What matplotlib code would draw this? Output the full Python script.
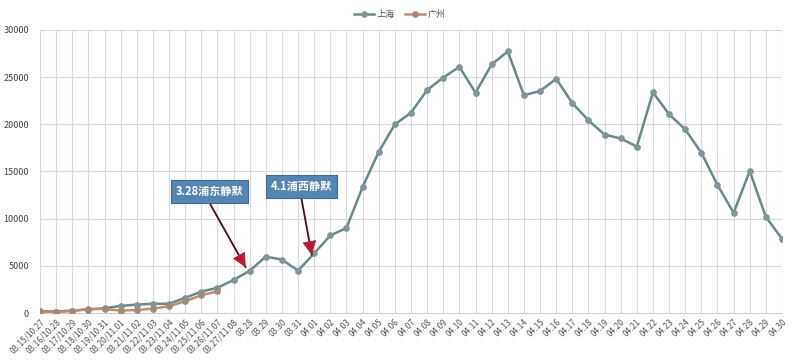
import numpy as np
import matplotlib
matplotlib.use("Agg")
import matplotlib.pyplot as plt

plt.rcParams['font.family'] = ['Noto Sans CJK SC', 'DejaVu Sans']

# ==========================
# Data
# ==========================
labels = ["03.15/10.27", "03.16/10.28", "03.17/10.29", "03.18/10.30", "03.19/10.31",
          "03.20/11.01", "03.21/11.02", "03.22/11.03", "03.23/11.04", "03.24/11.05",
          "03.25/11.06", "03.26/11.07", "03.27/11.08",
          "03.28", "03.29", "03.30", "03.31"] + ["04.%02d" % d for d in range(1, 31)]

shanghai = [202, 158, 260, 374, 509, 758, 896, 981, 983, 1609, 2269, 2676, 3500,
            4477, 5982, 5653, 4502,
            6311, 8226, 9006, 13354, 17077, 19982, 21222, 23624, 24943, 26087,
            23342, 26330, 27719, 23072, 23513, 24820, 22248, 20416, 18901, 18495,
            17629, 23370, 21058, 19455, 16980, 13562, 10622, 15032, 10181, 7872]

guangzhou = [150, 110, 220, 440, 430, 260, 320, 470, 730, 1250, 1880, 2300]

notes = ["3.28浦东静默", "4.1浦西静默"]
note_box = [(10.5, 12900), (16.2, 13400)]
note_tip = [(12.75, 4850), (16.85, 6150)]

# ==========================
# Plot
# ==========================
fig = plt.figure(figsize=(8, 3.64), dpi=100)
ax = fig.add_axes([0.05, 0.14, 0.9275, 0.778])

x = np.arange(len(labels))
c_sh = "#688a8c"
c_gz = "#c98c62"
ax.plot(x, shanghai, '-o', color=c_sh, lw=1.8, ms=3.8,
        mfc="#7f9597", mec="#7f9597", label="上海", zorder=3)
ax.plot(x[:len(guangzhou)], guangzhou, '-o', color=c_gz, lw=1.8, ms=3.8,
        mfc="#a08a7c", mec="#a08a7c", label="广州", zorder=4)

ax.set_xlim(0, len(labels) - 1)
ax.set_ylim(0, 30000)
ax.set_yticks(np.arange(0, 30001, 5000))
ax.set_xticks(x)
ax.set_xticklabels(labels, rotation=45, ha="right", rotation_mode="anchor",
                   fontsize=6, color="#555555")
ax.tick_params(axis="y", labelsize=6.5, labelcolor="#444444", length=0, pad=8)
ax.tick_params(axis="x", length=0, pad=3)
ax.grid(True, color="#d9d9d9", lw=0.8)
for s in ["left", "top", "right"]:
    ax.spines[s].set_visible(False)
ax.spines["bottom"].set_color("#d0d0d0")
ax.axhline(30000, color="#d9d9d9", lw=0.8)

for txt, (bx, by), (tx, ty) in zip(notes, note_box, note_tip):
    # shaft
    ax.annotate("", xy=(tx, ty), xytext=(bx, by - 1200),
                arrowprops=dict(arrowstyle="-", color="#4a0c14", lw=1.3,
                                shrinkA=0, shrinkB=0), zorder=5)
    # red head
    dx, dy = tx - bx, ty - (by - 1200)
    ax.annotate("", xy=(tx, ty), xytext=(tx - dx * 0.12, ty - dy * 0.12),
                arrowprops=dict(arrowstyle="-|>,head_length=0.9,head_width=0.45",
                                fc="#c0182c", ec="#c0182c", lw=0.6,
                                shrinkA=0, shrinkB=0), zorder=6)
    ax.text(bx, by, txt, ha="center", va="center", fontsize=8, fontweight="bold",
            color="white", zorder=7,
            bbox=dict(boxstyle="square,pad=0.45", fc="#5385b5", ec="#3f6a92", lw=0.8))

leg = fig.legend(loc="upper center", bbox_to_anchor=(0.5, 0.995), ncol=2, frameon=False,
                 fontsize=6.5, handlelength=2.2, columnspacing=1.2, handletextpad=0.3)
for t in leg.get_texts():
    t.set_color("#555555")

fig.savefig("out.png", dpi=100)
